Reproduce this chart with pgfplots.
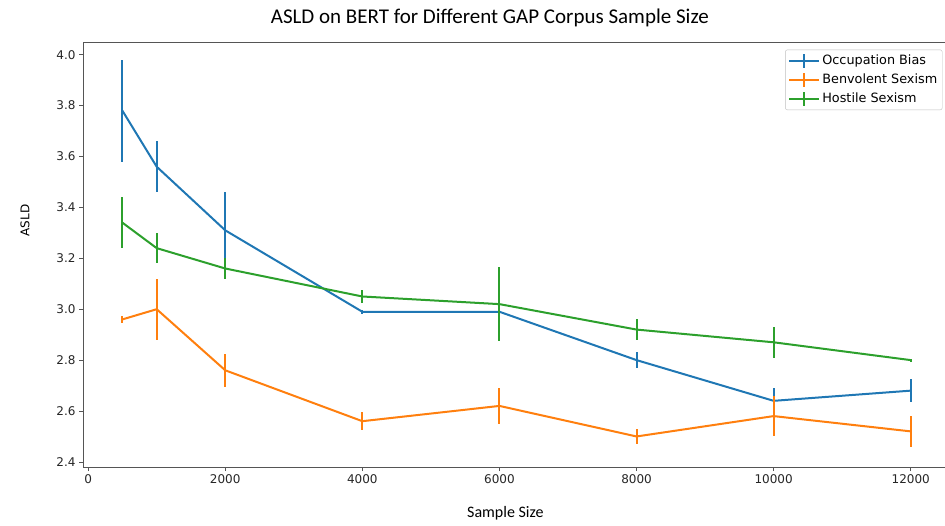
\documentclass[border=0pt]{standalone}
\usepackage{pgfplots}
\pgfplotsset{compat=1.18}
\usepackage{fontspec}
\setmainfont{Carlito}
\newfontfamily\dejavu{DejaVu Sans}
\definecolor{tabblue}{HTML}{1F77B4}
\definecolor{taborange}{HTML}{FF7F0E}
\definecolor{tabgreen}{HTML}{2CA02C}
\definecolor{spine}{HTML}{555555}
\begin{document}
\begin{tikzpicture}
\path[use as bounding box] (0,0) rectangle (945pt,525pt);
\begin{axis}[
  at={(83pt,58pt)}, anchor=south west,
  scale only axis, width=862pt, height=425pt,
  xmin=-75, xmax=12500, ymin=2.38, ymax=4.05,
  xtick={0,2000,...,12000},
  ytick={2.4,2.6,2.8,3.0,3.2,3.4,3.6,3.8,4.0},
  scaled x ticks=false,
  /pgf/number format/assume math mode=true,
  xticklabel style={/pgf/number format/.cd,fixed,set thousands separator={}},
  yticklabel style={/pgf/number format/.cd,fixed,fixed zerofill,precision=1},
  tick label style={font=\dejavu\fontsize{12}{14}\selectfont, color=black!85},
  tick align=outside, tick pos=lower, major tick length=4pt,
  axis line style={spine, line width=0.8pt},
  every tick/.style={spine, line width=0.8pt},
  title={ASLD on BERT for Different GAP Corpus Sample Size},
  title style={font=\fontsize{21}{24}\selectfont, at={(0.472,1)}, anchor=south, yshift=6pt},
  xlabel={Sample Size},
  xlabel style={font=\fontsize{16}{19}\selectfont, at={(0.49,0)}, anchor=north, yshift=-36pt},
  ylabel={ASLD},
  ylabel style={font=\dejavu\fontsize{12}{14}\selectfont, at={(0,0.58)}, anchor=south, yshift=50pt},
  legend style={at={(0.997,0.982)}, anchor=north east, font=\dejavu\fontsize{12.8}{15}\selectfont,
    draw=black!25, rounded corners=2pt, inner sep=3pt, row sep=3pt, cells={anchor=west}},
  legend image code/.code={\draw[#1] (0pt,0pt) -- (30pt,0pt); \draw[#1] (15pt,-7pt) -- (15pt,7pt);},
]
\addplot[tabblue, line width=2pt, mark=none,
  error bars/.cd, y dir=both, y explicit, error mark=none,
  error bar style={tabblue, line width=2pt}] table[x=x, y=y, y error=e] {
x y e
500 3.78 0.20
1000 3.56 0.10
2000 3.31 0.15
4000 2.99 0.008
6000 2.99 0.02
8000 2.80 0.03
10000 2.64 0.05
12000 2.68 0.045
};
\addlegendentry{Occupation Bias}
\addplot[taborange, line width=2pt, mark=none,
  error bars/.cd, y dir=both, y explicit, error mark=none,
  error bar style={taborange, line width=2pt}] table[x=x, y=y, y error=e] {
x y e
500 2.96 0.015
1000 3.00 0.12
2000 2.76 0.065
4000 2.56 0.035
6000 2.62 0.07
8000 2.50 0.03
10000 2.58 0.08
12000 2.52 0.06
};
\addlegendentry{Benvolent Sexism}
\addplot[tabgreen, line width=2pt, mark=none,
  error bars/.cd, y dir=both, y explicit, error mark=none,
  error bar style={tabgreen, line width=2pt}] table[x=x, y=y, y error=e] {
x y e
500 3.34 0.10
1000 3.24 0.06
2000 3.16 0.04
4000 3.05 0.025
6000 3.02 0.145
8000 2.92 0.04
10000 2.87 0.06
12000 2.80 0.006
};
\addlegendentry{Hostile Sexism}
\end{axis}
\end{tikzpicture}
\end{document}
